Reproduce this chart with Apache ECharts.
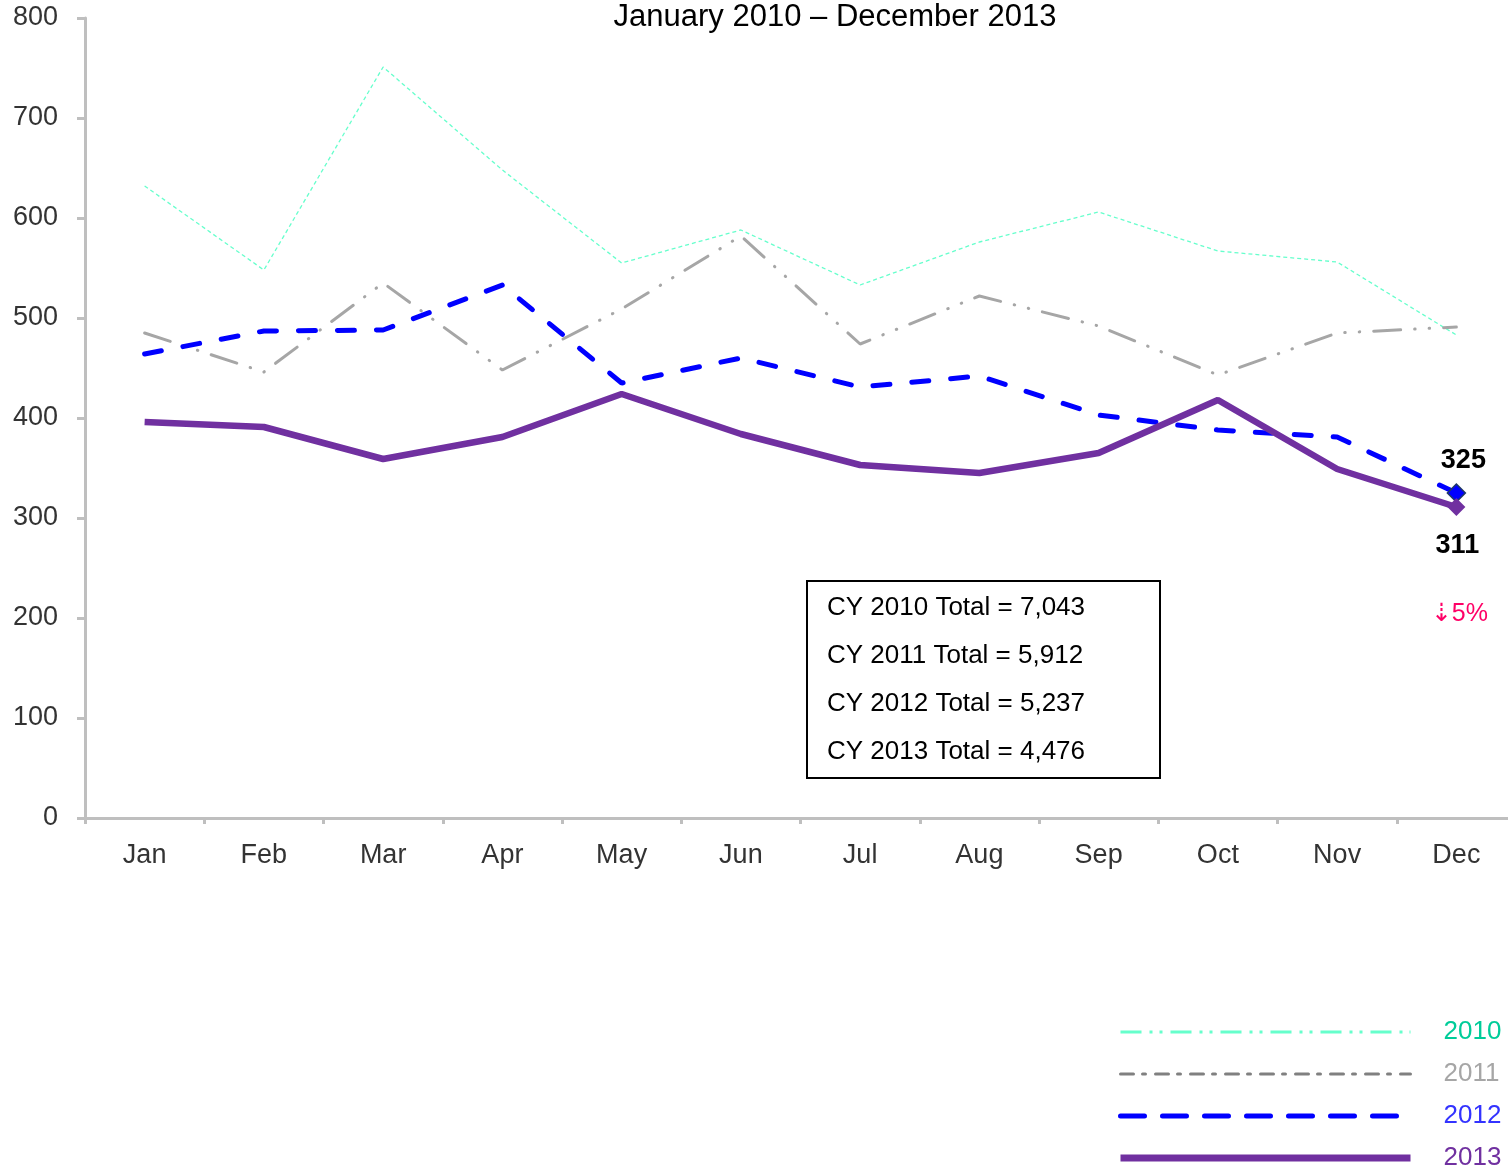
<!DOCTYPE html>
<html>
<head>
<meta charset="utf-8">
<title>January 2010 – December 2013</title>
<script src="https://cdn.jsdelivr.net/npm/echarts@6/dist/echarts.min.js"></script>
<style>
  html, body { margin: 0; padding: 0; background: #fff; }
  #chart { width: 1508px; height: 1174px; }
</style>
</head>
<body>
<div id="chart"></div>
<script>
// months on the x axis
const months = ['Jan', 'Feb', 'Mar', 'Apr', 'May', 'Jun', 'Jul', 'Aug', 'Sep', 'Oct', 'Nov', 'Dec']

// monthly values
const y2010 = [632, 548, 751, 648, 555, 588, 533, 576, 606, 567, 556, 483]
const y2011 = [485, 446, 535, 448, 509, 582, 474, 522, 492, 443, 485, 491]
const y2012 = [464, 487, 488, 533, 435, 460, 431, 442, 403, 388, 381, 325]
const y2013 = [396, 391, 359, 381, 424, 384, 353, 345, 365, 418, 349, 311]

const yearNames = ['2010', '2011', '2012', '2013']
const dropLabel = '⇣5%'

const FONT = "'Liberation Sans', Arial, sans-serif"
const total = arr => arr.reduce((s, v) => s + v, 0).toLocaleString('en-US')

// only the December point gets a marker + label
const withEndPoint = (arr, extra) =>
  arr.map((v, i) => (i === arr.length - 1 ? Object.assign({ value: v }, extra) : v))

// legend icons: line only, hide the default circle
const noSymbol = { color: 'rgba(0,0,0,0)', borderWidth: 0, opacity: 0 }

const chart = echarts.init(document.getElementById('chart'))

chart.setOption({
  animation: false,
  textStyle: { fontFamily: FONT },
  title: {
    text: 'January 2010 – December 2013',
    left: 835,
    top: 2,
    padding: 0,
    textAlign: 'center',
    textStyle: { fontFamily: FONT, fontSize: 31, fontWeight: 'normal', color: '#000' }
  },
  grid: { left: 85, right: -8, top: 18, bottom: 356, outerBoundsMode: 'none', containLabel: false },
  xAxis: {
    type: 'category',
    data: months,
    boundaryGap: true,
    axisLine: { lineStyle: { color: '#BFBFBF', width: 3 } },
    axisTick: { show: true, length: 6, lineStyle: { color: '#BFBFBF', width: 3 } },
    axisLabel: { color: '#333', fontSize: 27, margin: 24, fontFamily: FONT }
  },
  yAxis: {
    type: 'value',
    min: 0,
    max: 800,
    interval: 100,
    axisLine: { show: true, lineStyle: { color: '#BFBFBF', width: 3 } },
    axisTick: { show: true, length: 8, lineStyle: { color: '#BFBFBF', width: 3 } },
    axisLabel: { color: '#333', fontSize: 27, margin: 27, padding: [4, 0, 0, 0], fontFamily: FONT },
    splitLine: { show: false }
  },
  legend: {
    orient: 'vertical',
    left: 1117,
    top: 1019,
    padding: 0,
    itemWidth: 290,
    itemHeight: 26,
    itemGap: 16,
    itemStyle: noSymbol,
    textStyle: { fontSize: 26, fontFamily: FONT, padding: [0, 0, 0, 28] },
    data: [
      { name: '2010', textStyle: { color: '#00CC99' }, itemStyle: noSymbol,
        lineStyle: { color: '#66FFCC', width: 3, type: [21, 8, 3, 7, 3, 8] } },
      { name: '2011', textStyle: { color: '#A6A6A6' }, itemStyle: noSymbol,
        lineStyle: { color: '#808080', width: 3, type: [13, 9, 3, 10] } },
      { name: '2012', textStyle: { color: '#3333FF' }, itemStyle: noSymbol,
        lineStyle: { color: '#0000FF', width: 5, type: [24, 18] } },
      { name: '2013', textStyle: { color: '#7030A0' }, itemStyle: noSymbol,
        lineStyle: { color: '#7030A0', width: 7, type: 'solid' } }
    ]
  },
  graphic: [{
    type: 'group',
    left: 806,
    top: 580,
    children: [
      { type: 'rect', shape: { x: 0, y: 0, width: 353, height: 197 },
        style: { fill: '#fff', stroke: '#000', lineWidth: 2 } },
      ...[y2010, y2011, y2012, y2013].map((arr, i) => ({
        type: 'text',
        x: 20,
        y: 27 + i * 48,
        style: {
          text: `CY ${yearNames[i]} Total = ${total(arr)}`,
          font: `26px ${FONT}`,
          fill: '#000',
          textVerticalAlign: 'middle'
        }
      }))
    ]
  }],
  series: [
    {
      name: '2010', type: 'line', symbol: 'none', z: 1,
      lineStyle: { color: '#66FFCC', width: 1.3, type: [4, 3] },
      itemStyle: { color: '#66FFCC' },
      data: y2010
    },
    {
      name: '2011', type: 'line', symbol: 'none', z: 2,
      lineStyle: { color: '#A6A6A6', width: 3, type: [27, 14, 0.5, 14, 0.5, 14], cap: 'round' },
      itemStyle: { color: '#A6A6A6' },
      data: y2011
    },
    {
      name: '2012', type: 'line', symbol: 'none', z: 3,
      lineStyle: { color: '#0000FF', width: 5, type: [17, 22], cap: 'round' },
      itemStyle: { color: '#0000FF' },
      data: withEndPoint(y2012, {
        symbol: 'diamond', symbolSize: 18,
        itemStyle: { color: '#0000FF', borderColor: '#1F3864', borderWidth: 1.5 },
        label: {
          show: true, position: 'top', distance: 9, offset: [7, 0],
          fontSize: 27, fontWeight: 'bold', color: '#000', fontFamily: FONT
        }
      })
    },
    {
      name: '2013', type: 'line', symbol: 'none', z: 4,
      lineStyle: { color: '#7030A0', width: 6.5 },
      itemStyle: { color: '#7030A0' },
      data: withEndPoint(y2013, {
        symbol: 'diamond', symbolSize: 18,
        itemStyle: { color: '#7030A0' },
        label: {
          show: true, position: 'bottom', distance: 16, offset: [1, 0],
          formatter: p => `{v|${p.value}}\n{p|${dropLabel}}`,
          rich: {
            v: { fontSize: 27, fontWeight: 'bold', color: '#000', lineHeight: 28, fontFamily: FONT },
            p: { fontSize: 25, color: '#FF0066', lineHeight: 28, padding: [81, 0, 0, 4], fontFamily: FONT }
          }
        }
      })
    }
  ]
})
</script>
</body>
</html>
